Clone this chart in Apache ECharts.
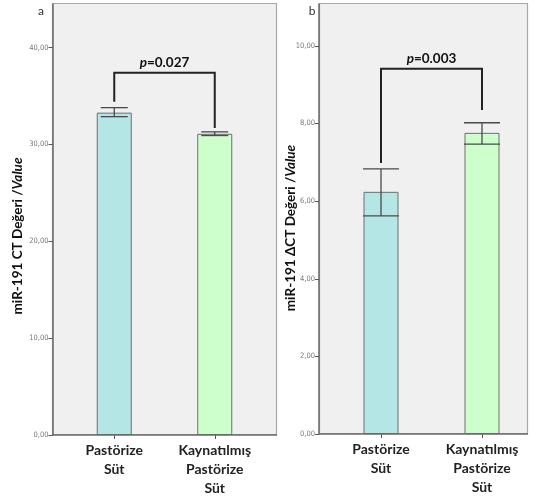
<!DOCTYPE html>
<html><head><meta charset="utf-8">
<script src="https://cdn.jsdelivr.net/npm/echarts@6/dist/echarts.min.js"></script>
<style>html,body{margin:0;padding:0;background:#fff}#c{width:533px;height:498px}</style>
</head><body><div id="c"></div>
<script>
const categories = ['Pastörize\nSüt', 'Kaynatılmış\nPastörize\nSüt'];
// Panel a: miR-191 CT
const ctMean = [33.28, 31.10];
const ctLow = [32.87, 30.92];
const ctHigh = [33.80, 31.30];
const ctTicks = [0, 10, 20, 30, 40];
const ctBracket = [34.4, 37.4, 31.7]; // left end, top, right end
const ctP = '0.027';
// Panel b: miR-191 ΔCT
const dctMean = [6.24, 7.76];
const dctLow = [5.62, 7.47];
const dctHigh = [6.83, 8.02];
const dctTicks = [0, 2, 4, 6, 8, 10];
const dctBracket = [6.98, 9.41, 8.35];
const dctP = '0.003';

const barColors = ['#b4e6e6', '#ccffcc'];
const FONT = 'Lato, "Open Sans", sans-serif';
const fmt = v => v.toFixed(2).replace('.', ',');

function errSeries(idx, low, high, capW) {
  return {
    type: 'custom', xAxisIndex: idx, yAxisIndex: idx, z: 5,
    data: low.map((l, i) => [i, l, high[i]]),
    renderItem: (params, api) => {
      const x = api.value(0);
      const p1 = api.coord([x, api.value(1)]);
      const p2 = api.coord([x, api.value(2)]);
      const st = { stroke: '#4a4a4a', lineWidth: 1.3 };
      return { type: 'group', children: [
        { type: 'line', shape: { x1: p1[0], y1: p1[1], x2: p2[0], y2: p2[1] }, style: st },
        { type: 'line', shape: { x1: p1[0] - capW / 2, y1: p1[1], x2: p1[0] + capW / 2, y2: p1[1] }, style: st },
        { type: 'line', shape: { x1: p2[0] - capW / 2, y1: p2[1], x2: p2[0] + capW / 2, y2: p2[1] }, style: st }
      ]};
    }
  };
}
function bracketSeries(idx, br, pval) {
  return {
    type: 'custom', xAxisIndex: idx, yAxisIndex: idx, z: 6,
    data: [[0, 1, br[0], br[1], br[2]]],
    renderItem: (params, api) => {
      const a = api.coord([api.value(0), api.value(2)]);
      const t1 = api.coord([api.value(0), api.value(3)]);
      const t2 = api.coord([api.value(1), api.value(3)]);
      const b = api.coord([api.value(1), api.value(4)]);
      return { type: 'group', children: [
        { type: 'polyline', shape: { points: [a, t1, t2, b] }, style: { stroke: '#222', lineWidth: 2, fill: null } },
        { type: 'text', x: (t1[0] + t2[0]) / 2, y: t1[1] - 3, style: {
          text: '{i|p}{b|=' + pval + '}', align: 'center', verticalAlign: 'bottom',
          rich: { i: { fontFamily: FONT, fontSize: 13.5, fontWeight: 'bold', fontStyle: 'italic', fill: '#111' },
                  b: { fontFamily: FONT, fontSize: 13.5, fontWeight: 'bold', fill: '#111' } } } }
      ]};
    }
  };
}
function barSeries(idx, mean) {
  return {
    type: 'bar', xAxisIndex: idx, yAxisIndex: idx, barWidth: 35, z: 3,
    data: mean.map((v, i) => ({ value: v, itemStyle: { color: barColors[i], borderColor: '#6e6e6e', borderWidth: 1 } }))
  };
}
function xAx(idx) {
  return {
    type: 'category', gridIndex: idx, data: categories,
    axisLine: { show: false },
    axisTick: { show: true, alignWithLabel: true, length: 4, lineStyle: { color: '#555' } },
    axisLabel: { fontFamily: FONT, fontSize: 14, fontWeight: 'bold', color: '#222', lineHeight: 19, margin: 6, interval: 0 }
  };
}
function yAx(idx, max, interval, ticks) {
  return {
    type: 'value', gridIndex: idx, min: 0, max: max, interval: interval, offset: 11.5,
    splitLine: { show: false },
    axisLine: { show: true, lineStyle: { color: '#6a6a6a', width: 1.5 } },
    axisTick: { show: true, length: 4, customValues: ticks, lineStyle: { color: '#555' } },
    axisLabel: { customValues: ticks, formatter: fmt, fontSize: 7.5, color: '#777', margin: 4,
      fontFamily: '"Liberation Sans Narrow", "DejaVu Sans Condensed", sans-serif' }
  };
}
function yTitle(x, y, main) {
  return { type: 'text', x: x, y: y, rotation: Math.PI / 2, z: 10,
    style: { text: '{b|' + main + ' /}{i|Value}', align: 'center', verticalAlign: 'middle',
      rich: { b: { fontFamily: FONT, fontSize: 13.5, fontWeight: 'bold', fill: '#111' },
              i: { fontFamily: FONT, fontSize: 13.5, fontWeight: 'bold', fontStyle: 'italic', fill: '#111' } } } };
}

const chart = echarts.init(document.getElementById('c'), null, { renderer: 'canvas' });
chart.setOption({
  animation: false,
  backgroundColor: '#fff',
  grid: [
    { left: 64, width: 201, top: 4, bottom: 63 },
    { left: 330.5, width: 202, top: 4, bottom: 64 }
  ],
  xAxis: [xAx(0), xAx(1)],
  yAxis: [yAx(0, 44.5, 10, ctTicks), yAx(1, 11.08, 2, dctTicks)],
  graphic: [
    { type: 'rect', z: -10, shape: { x: 52.5, y: 3.5, width: 224, height: 431 }, style: { fill: '#f0f0f0', stroke: '#a8a8a8', lineWidth: 1.2 } },
    { type: 'rect', z: -10, shape: { x: 319.5, y: 3.5, width: 208, height: 430 }, style: { fill: '#f0f0f0', stroke: '#a8a8a8', lineWidth: 1.2 } },
    { type: 'line', z: 10, shape: { x1: 52, y1: 435, x2: 277, y2: 435 }, style: { stroke: '#6a6a6a', lineWidth: 1.5 } },
    { type: 'line', z: 10, shape: { x1: 319, y1: 434, x2: 528, y2: 434 }, style: { stroke: '#6a6a6a', lineWidth: 1.5 } },
    { type: 'text', x: 41, y: 11, style: { text: 'a', fontFamily: FONT, fontSize: 12, fill: '#333', align: 'center', verticalAlign: 'middle' } },
    { type: 'text', x: 312, y: 11, style: { text: 'b', fontFamily: FONT, fontSize: 12, fill: '#333', align: 'center', verticalAlign: 'middle' } },
    yTitle(18, 236, 'miR-191 CT Değeri'),
    yTitle(291, 228, 'miR-191 ΔCT Değeri')
  ],
  series: [
    barSeries(0, ctMean), errSeries(0, ctLow, ctHigh, 27), bracketSeries(0, ctBracket, ctP),
    barSeries(1, dctMean), errSeries(1, dctLow, dctHigh, 36), bracketSeries(1, dctBracket, dctP)
  ]
});
</script></body></html>
